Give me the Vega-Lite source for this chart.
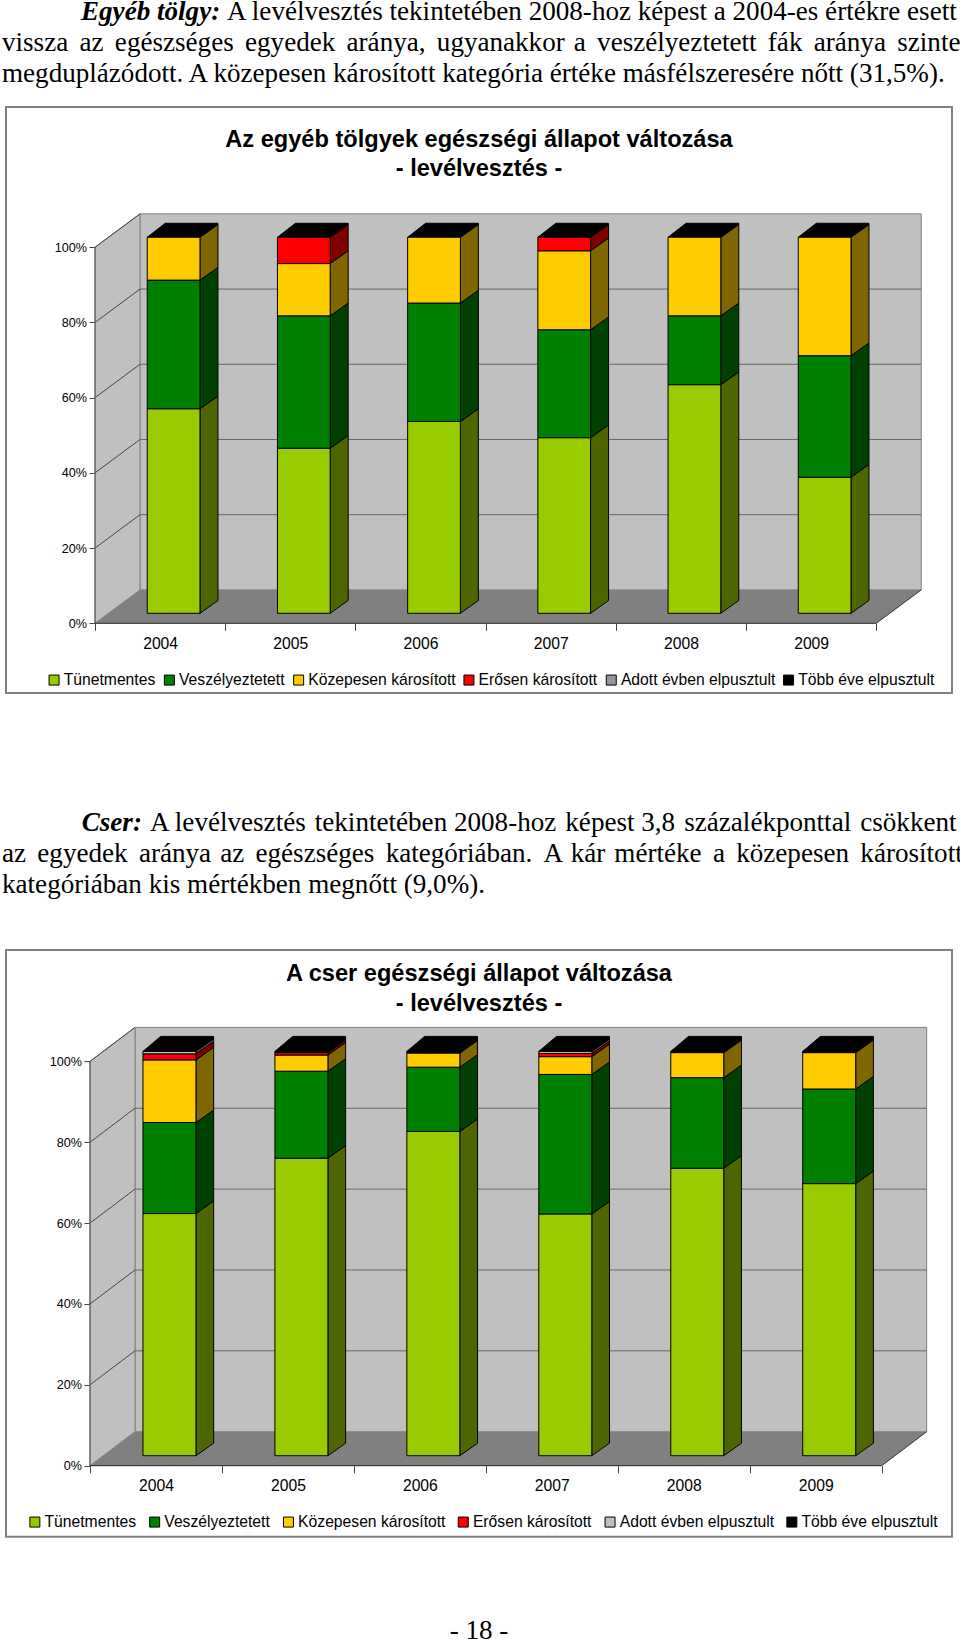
{"$schema":"https://vega.github.io/schema/vega-lite/v6.json","background":"white","padding":{"left":2,"top":-2,"right":0,"bottom":0},"spacing":0,"bounds":"flush","config":{"view":{"stroke":null},"concat":{"spacing":0}},"resolve":{"scale":{"color":"independent","fill":"independent"}},
"datasets":{
"frame":[{"slotFrom":0,"slotTo":6,"pctFrom":0,"pctTo":100}],
"ticks":[{"pct":20},{"pct":40},{"pct":60},{"pct":80},{"pct":100}],
"d1":[
{"year":2004,"series":"Tünetmentes","ord":1,"value":54.4},{"year":2004,"series":"Veszélyeztetett","ord":2,"value":34.2},{"year":2004,"series":"Közepesen károsított","ord":3,"value":11.4},{"year":2004,"series":"Erősen károsított","ord":4,"value":0},{"year":2004,"series":"Adott évben elpusztult","ord":5,"value":0},{"year":2004,"series":"Több éve elpusztult","ord":6,"value":0},
{"year":2005,"series":"Tünetmentes","ord":1,"value":43.9},{"year":2005,"series":"Veszélyeztetett","ord":2,"value":35.2},{"year":2005,"series":"Közepesen károsított","ord":3,"value":13.9},{"year":2005,"series":"Erősen károsított","ord":4,"value":7.0},{"year":2005,"series":"Adott évben elpusztult","ord":5,"value":0},{"year":2005,"series":"Több éve elpusztult","ord":6,"value":0},
{"year":2006,"series":"Tünetmentes","ord":1,"value":51.0},{"year":2006,"series":"Veszélyeztetett","ord":2,"value":31.5},{"year":2006,"series":"Közepesen károsított","ord":3,"value":17.5},{"year":2006,"series":"Erősen károsított","ord":4,"value":0},{"year":2006,"series":"Adott évben elpusztult","ord":5,"value":0},{"year":2006,"series":"Több éve elpusztult","ord":6,"value":0},
{"year":2007,"series":"Tünetmentes","ord":1,"value":46.7},{"year":2007,"series":"Veszélyeztetett","ord":2,"value":28.7},{"year":2007,"series":"Közepesen károsított","ord":3,"value":21.0},{"year":2007,"series":"Erősen károsított","ord":4,"value":3.6},{"year":2007,"series":"Adott évben elpusztult","ord":5,"value":0},{"year":2007,"series":"Több éve elpusztult","ord":6,"value":0},
{"year":2008,"series":"Tünetmentes","ord":1,"value":60.8},{"year":2008,"series":"Veszélyeztetett","ord":2,"value":18.3},{"year":2008,"series":"Közepesen károsított","ord":3,"value":20.9},{"year":2008,"series":"Erősen károsított","ord":4,"value":0},{"year":2008,"series":"Adott évben elpusztult","ord":5,"value":0},{"year":2008,"series":"Több éve elpusztult","ord":6,"value":0},
{"year":2009,"series":"Tünetmentes","ord":1,"value":36.2},{"year":2009,"series":"Veszélyeztetett","ord":2,"value":32.3},{"year":2009,"series":"Közepesen károsított","ord":3,"value":31.5},{"year":2009,"series":"Erősen károsított","ord":4,"value":0},{"year":2009,"series":"Adott évben elpusztult","ord":5,"value":0},{"year":2009,"series":"Több éve elpusztult","ord":6,"value":0}],
"d2":[
{"year":2004,"series":"Tünetmentes","ord":1,"value":59.9},{"year":2004,"series":"Veszélyeztetett","ord":2,"value":22.5},{"year":2004,"series":"Közepesen károsított","ord":3,"value":15.5},{"year":2004,"series":"Erősen károsított","ord":4,"value":1.5},{"year":2004,"series":"Adott évben elpusztult","ord":5,"value":0.6},{"year":2004,"series":"Több éve elpusztult","ord":6,"value":0},
{"year":2005,"series":"Tünetmentes","ord":1,"value":73.6},{"year":2005,"series":"Veszélyeztetett","ord":2,"value":21.5},{"year":2005,"series":"Közepesen károsított","ord":3,"value":4.0},{"year":2005,"series":"Erősen károsított","ord":4,"value":0.6},{"year":2005,"series":"Adott évben elpusztult","ord":5,"value":0},{"year":2005,"series":"Több éve elpusztult","ord":6,"value":0.3},
{"year":2006,"series":"Tünetmentes","ord":1,"value":80.2},{"year":2006,"series":"Veszélyeztetett","ord":2,"value":15.9},{"year":2006,"series":"Közepesen károsított","ord":3,"value":3.5},{"year":2006,"series":"Erősen károsított","ord":4,"value":0},{"year":2006,"series":"Adott évben elpusztult","ord":5,"value":0},{"year":2006,"series":"Több éve elpusztult","ord":6,"value":0.4},
{"year":2007,"series":"Tünetmentes","ord":1,"value":59.8},{"year":2007,"series":"Veszélyeztetett","ord":2,"value":34.5},{"year":2007,"series":"Közepesen károsított","ord":3,"value":4.4},{"year":2007,"series":"Erősen károsított","ord":4,"value":0.8},{"year":2007,"series":"Adott évben elpusztult","ord":5,"value":0.5},{"year":2007,"series":"Több éve elpusztult","ord":6,"value":0},
{"year":2008,"series":"Tünetmentes","ord":1,"value":71.1},{"year":2008,"series":"Veszélyeztetett","ord":2,"value":22.4},{"year":2008,"series":"Közepesen károsított","ord":3,"value":6.2},{"year":2008,"series":"Erősen károsított","ord":4,"value":0.3},{"year":2008,"series":"Adott évben elpusztult","ord":5,"value":0},{"year":2008,"series":"Több éve elpusztult","ord":6,"value":0},
{"year":2009,"series":"Tünetmentes","ord":1,"value":67.3},{"year":2009,"series":"Veszélyeztetett","ord":2,"value":23.4},{"year":2009,"series":"Közepesen károsított","ord":3,"value":9.0},{"year":2009,"series":"Erősen károsított","ord":4,"value":0.3},{"year":2009,"series":"Adott évben elpusztult","ord":5,"value":0},{"year":2009,"series":"Több éve elpusztult","ord":6,"value":0}]
},
"vconcat":[
{"width":946,"height":107,"encoding":{"x":{"field":"indent","type":"quantitative","scale":{"domain":[0,1],"range":[-4,75]},"axis":null},"y":{"field":"line","type":"quantitative","scale":{"domain":[1,3],"range":[20,82]},"axis":null},"text":{"field":"text"}},
"layer":[
{"data":{"values":[{"line":1,"indent":1,"text":"Egyéb tölgy:"}]},"mark":{"type":"text","font":"Liberation Serif","fontSize":27.1,"fontWeight":"bold","fontStyle":"italic","align":"left","baseline":"alphabetic","color":"#000"}},
{"data":{"values":[{"line":1,"indent":2.848,"text":"A levélvesztés tekintetében 2008-hoz képest a 2004-es értékre esett"},{"line":2,"indent":0,"text":"vissza \u200a\u200aaz \u200a\u200aegészséges \u200a\u200aegyedek \u200a\u200aaránya, \u200a\u200augyanakkor \u200aa \u200a\u200aveszélyeztetett \u200a\u200afák \u200a\u200aaránya \u200a\u200aszinte"},{"line":3,"indent":0,"text":"megduplázódott. A közepesen károsított kategória értéke másfélszeresére nőtt (31,5%)."}]},"mark":{"type":"text","font":"Liberation Serif","fontSize":27.1,"align":"left","baseline":"alphabetic","color":"#000"}}
]},
{"width":946,"height":586,"view":{"stroke":"#808080","strokeWidth":2},
"title":{"text":["Az egyéb tölgyek egészségi állapot változása","- levélvesztés -"],"font":"Liberation Sans","fontSize":23.6,"fontWeight":"bold","color":"#000","anchor":"middle","offset":-74,"lineHeight":29.5},
"encoding":{"x":{"field":"X","type":"quantitative","scale":{"domain":[-0.6836,6.582],"nice":false,"zero":false},"axis":{"values":[0,0.5,1,1.5,2,2.5,3,3.5,4,4.5,5,5.5,6],"orient":"bottom","offset":-69.7,"domain":false,"grid":false,"title":null,"tickSize":7,"tickColor":"#444","tickOpacity":{"condition":{"test":"datum.value%1==0","value":1},"value":0},"labelFont":"Liberation Sans","labelFontSize":15.7,"labelColor":"#000","labelPadding":6,"labelAngle":0,"labelOverlap":false,"labelFlush":false,"labelExpr":"datum.value%1==0.5 ? ''+(2004+floor(datum.value)) : ''"}},"y":{"field":"Y","type":"quantitative","scale":{"domain":[-18.54,137.3],"nice":false,"zero":false},"axis":{"values":[0,20,40,60,80,100],"orient":"left","offset":-89,"domain":false,"grid":false,"title":null,"tickSize":6,"tickColor":"#444","labelFont":"Liberation Sans","labelFontSize":12.6,"labelColor":"#000","labelPadding":2.5,"labelExpr":"datum.value+'%'"}}},
"layer":[
{"data":{"name":"frame"},"transform":[{"calculate":"datum.slotFrom+0.3456","as":"X"},{"calculate":"datum.slotTo+0.3456","as":"X2"},{"calculate":"datum.pctFrom+8.88","as":"Y"},{"calculate":"datum.pctTo+8.88","as":"Y2"}],"mark":{"type":"rect","fill":"#C0C0C0","stroke":"#808080","strokeWidth":1},"encoding":{"x2":{"field":"X2"},"y2":{"field":"Y2"}}},
{"data":{"name":"frame"},"transform":[{"calculate":"[0,1]","as":"f"},{"flatten":["f"]},{"calculate":"datum.f*0.3456","as":"X"},{"calculate":"datum.f*8.88","as":"Y"},{"calculate":"datum.pctTo+datum.f*8.88","as":"Y2"}],"mark":{"type":"area","fill":"#C0C0C0","stroke":"#808080","strokeWidth":1},"encoding":{"y":{"field":"Y","type":"quantitative","stack":null},"y2":{"field":"Y2"}}},
{"data":{"name":"frame"},"transform":[{"calculate":"[0,1,2,3]","as":"k"},{"flatten":["k"]},{"calculate":"[0,0.3456,6,6.3456][datum.k]","as":"X"},{"calculate":"[0,0,0,8.88][datum.k]","as":"Y"},{"calculate":"[0,8.88,8.88,8.88][datum.k]","as":"Y2"}],"mark":{"type":"area","fill":"#808080"},"encoding":{"y":{"field":"Y","type":"quantitative","stack":null},"y2":{"field":"Y2"}}},
{"data":{"name":"ticks"},"transform":[{"calculate":"0.3456","as":"X"},{"calculate":"6.3456","as":"X2"},{"calculate":"datum.pct+8.88","as":"Y"},{"filter":"datum.pct<100"}],"mark":{"type":"rule","color":"#666","strokeWidth":1},"encoding":{"x2":{"field":"X2"}}},
{"data":{"name":"ticks"},"transform":[{"calculate":"0","as":"X"},{"calculate":"0.3456","as":"X2"},{"calculate":"datum.pct","as":"Y"},{"calculate":"datum.pct+8.88","as":"Y2"}],"mark":{"type":"rule","color":"#444","strokeWidth":1},"encoding":{"x2":{"field":"X2"},"y2":{"field":"Y2"}}},
{"data":{"name":"frame"},"transform":[{"calculate":"0","as":"X"},{"calculate":"datum.pctFrom","as":"Y"},{"calculate":"datum.pctTo","as":"Y2"}],"mark":{"type":"rule","color":"#555","strokeWidth":1},"encoding":{"y2":{"field":"Y2"}}},
{"data":{"name":"frame"},"transform":[{"calculate":"datum.slotFrom","as":"X"},{"calculate":"datum.slotTo","as":"X2"},{"calculate":"datum.pctFrom","as":"Y"}],"mark":{"type":"rule","color":"#222","strokeWidth":1},"encoding":{"x2":{"field":"X2"}}},
{"data":{"name":"frame"},"transform":[{"calculate":"datum.slotTo","as":"X"},{"calculate":"datum.slotTo+0.3456","as":"X2"},{"calculate":"datum.pctFrom","as":"Y"},{"calculate":"datum.pctFrom+8.88","as":"Y2"}],"mark":{"type":"rule","color":"#333","strokeWidth":1},"encoding":{"x2":{"field":"X2"},"y2":{"field":"Y2"}}},
{"data":{"name":"d1"},"transform":[{"stack":"value","groupby":["year"],"sort":[{"field":"ord","order":"ascending"}],"as":["lo","hi"]},{"filter":"datum.value>0"},{"calculate":"[0,1]","as":"f"},{"flatten":["f"]},{"calculate":"datum.year-2004+0.8062+datum.f*0.1382","as":"X"},{"calculate":"datum.lo+2.66+datum.f*3.4","as":"Y"},{"calculate":"datum.hi+2.66+datum.f*3.4","as":"Y2"}],"mark":{"type":"area","stroke":"#000","strokeWidth":1},"encoding":{"y":{"field":"Y","type":"quantitative","stack":null},"y2":{"field":"Y2"},"detail":[{"field":"year"},{"field":"series"}],"fill":{"field":"series","type":"nominal","legend":null,"scale":{"domain":["Több éve elpusztult","Adott évben elpusztult","Erősen károsított","Közepesen károsított","Veszélyeztetett","Tünetmentes"],"range":["#000000","#4B4B4B","#800000","#806600","#004000","#4D6600"]}}}},
{"data":{"name":"d1"},"transform":[{"stack":"value","groupby":["year"],"sort":[{"field":"ord","order":"ascending"}],"as":["lo","hi"]},{"filter":"datum.ord==6"},{"calculate":"[0,1,2,3]","as":"k"},{"flatten":["k"]},{"calculate":"datum.year-2004+[0.4012,0.5394,0.8062,0.9444][datum.k]","as":"X"},{"calculate":"datum.hi+2.66+[0,0,0,3.4][datum.k]","as":"Y"},{"calculate":"datum.hi+2.66+[0,3.72,3.72,3.72][datum.k]","as":"Y2"}],"mark":{"type":"area","fill":"#000","stroke":"#000","strokeWidth":1},"encoding":{"y":{"field":"Y","type":"quantitative","stack":null},"y2":{"field":"Y2"},"detail":{"field":"year"}}},
{"data":{"name":"d1"},"transform":[{"stack":"value","groupby":["year"],"sort":[{"field":"ord","order":"ascending"}],"as":["lo","hi"]},{"filter":"datum.value>0"},{"calculate":"datum.year-2004+0.4012","as":"X"},{"calculate":"datum.year-2004+0.8062","as":"X2"},{"calculate":"datum.lo+2.66","as":"Y"},{"calculate":"datum.hi+2.66","as":"Y2"}],"mark":{"type":"rect","stroke":"#000","strokeWidth":1},"encoding":{"x2":{"field":"X2"},"y2":{"field":"Y2"},"color":{"field":"series","type":"nominal","scale":{"domain":["Tünetmentes","Veszélyeztetett","Közepesen károsított","Erősen károsított","Adott évben elpusztult","Több éve elpusztult"],"range":["#99CC00","#008000","#FFCC00","#FF0000","#969696","#000000"]},"legend":{"orient":"none","legendX":40.2,"legendY":565,"direction":"horizontal","columns":6,"columnPadding":5.3,"title":null,"symbolType":"square","symbolSize":100,"symbolStrokeColor":"#000","symbolStrokeWidth":1,"labelFont":"Liberation Sans","labelFontSize":15.7,"labelColor":"#000","labelOffset":1.8,"labelLimit":0}}}}
]},
{"width":946,"height":256.3,"encoding":{"x":{"field":"indent","type":"quantitative","scale":{"domain":[0,1],"range":[-4,75.7]},"axis":null},"y":{"field":"line","type":"quantitative","scale":{"domain":[1,3],"range":[137.7,199.7]},"axis":null},"text":{"field":"text"}},
"layer":[
{"data":{"values":[{"line":1,"indent":1,"text":"Cser:"}]},"mark":{"type":"text","font":"Liberation Serif","fontSize":27.1,"fontWeight":"bold","fontStyle":"italic","align":"left","baseline":"alphabetic","color":"#000"}},
{"data":{"values":[{"line":1,"indent":1.857,"text":"A levélvesztés \u200atekintetében 2008-hoz \u200aképest 3,8 \u200aszázalékponttal \u200acsökkent"},{"line":2,"indent":0,"text":"az \u200a\u200aegyedek \u200a\u200aaránya \u200aaz \u200a\u200aegészséges \u200a\u200akategóriában. \u200a\u200aA \u200akár \u200amértéke \u200a\u200aa \u200a\u200aközepesen \u200a\u200akárosított"},{"line":3,"indent":0,"text":"kategóriában kis mértékben megnőtt (9,0%)."}]},"mark":{"type":"text","font":"Liberation Serif","fontSize":27.1,"align":"left","baseline":"alphabetic","color":"#000"}}
]},
{"width":946,"height":586.7,"view":{"stroke":"#808080","strokeWidth":2},
"title":{"text":["A cser egészségi állapot változása","- levélvesztés -"],"font":"Liberation Sans","fontSize":23.6,"fontWeight":"bold","color":"#000","anchor":"middle","offset":-65.5,"lineHeight":29.5},
"encoding":{"x":{"field":"X","type":"quantitative","scale":{"domain":[-0.6366,6.533],"nice":false,"zero":false},"axis":{"values":[0,0.5,1,1.5,2,2.5,3,3.5,4,4.5,5,5.5,6],"orient":"bottom","offset":-71,"domain":false,"grid":false,"title":null,"tickSize":7,"tickColor":"#444","tickOpacity":{"condition":{"test":"datum.value%1==0","value":1},"value":0},"labelFont":"Liberation Sans","labelFontSize":15.7,"labelColor":"#000","labelPadding":6,"labelAngle":0,"labelOverlap":false,"labelFlush":false,"labelExpr":"datum.value%1==0.5 ? ''+(2004+floor(datum.value)) : ''"}},"y":{"field":"Y","type":"quantitative","scale":{"domain":[-17.56,127.55],"nice":false,"zero":false},"axis":{"values":[0,20,40,60,80,100],"orient":"left","offset":-84,"domain":false,"grid":false,"title":null,"tickSize":6,"tickColor":"#444","labelFont":"Liberation Sans","labelFontSize":12.6,"labelColor":"#000","labelPadding":2.5,"labelExpr":"datum.value+'%'"}}},
"layer":[
{"data":{"name":"frame"},"transform":[{"calculate":"datum.slotFrom+0.341","as":"X"},{"calculate":"datum.slotTo+0.341","as":"X2"},{"calculate":"datum.pctFrom+8.41","as":"Y"},{"calculate":"datum.pctTo+8.41","as":"Y2"}],"mark":{"type":"rect","fill":"#C0C0C0","stroke":"#808080","strokeWidth":1},"encoding":{"x2":{"field":"X2"},"y2":{"field":"Y2"}}},
{"data":{"name":"frame"},"transform":[{"calculate":"[0,1]","as":"f"},{"flatten":["f"]},{"calculate":"datum.f*0.341","as":"X"},{"calculate":"datum.f*8.41","as":"Y"},{"calculate":"datum.pctTo+datum.f*8.41","as":"Y2"}],"mark":{"type":"area","fill":"#C0C0C0","stroke":"#808080","strokeWidth":1},"encoding":{"y":{"field":"Y","type":"quantitative","stack":null},"y2":{"field":"Y2"}}},
{"data":{"name":"frame"},"transform":[{"calculate":"[0,1,2,3]","as":"k"},{"flatten":["k"]},{"calculate":"[0,0.341,6,6.341][datum.k]","as":"X"},{"calculate":"[0,0,0,8.41][datum.k]","as":"Y"},{"calculate":"[0,8.41,8.41,8.41][datum.k]","as":"Y2"}],"mark":{"type":"area","fill":"#808080"},"encoding":{"y":{"field":"Y","type":"quantitative","stack":null},"y2":{"field":"Y2"}}},
{"data":{"name":"ticks"},"transform":[{"calculate":"0.341","as":"X"},{"calculate":"6.341","as":"X2"},{"calculate":"datum.pct+8.41","as":"Y"},{"filter":"datum.pct<100"}],"mark":{"type":"rule","color":"#666","strokeWidth":1},"encoding":{"x2":{"field":"X2"}}},
{"data":{"name":"ticks"},"transform":[{"calculate":"0","as":"X"},{"calculate":"0.341","as":"X2"},{"calculate":"datum.pct","as":"Y"},{"calculate":"datum.pct+8.41","as":"Y2"}],"mark":{"type":"rule","color":"#444","strokeWidth":1},"encoding":{"x2":{"field":"X2"},"y2":{"field":"Y2"}}},
{"data":{"name":"frame"},"transform":[{"calculate":"0","as":"X"},{"calculate":"datum.pctFrom","as":"Y"},{"calculate":"datum.pctTo","as":"Y2"}],"mark":{"type":"rule","color":"#555","strokeWidth":1},"encoding":{"y2":{"field":"Y2"}}},
{"data":{"name":"frame"},"transform":[{"calculate":"datum.slotFrom","as":"X"},{"calculate":"datum.slotTo","as":"X2"},{"calculate":"datum.pctFrom","as":"Y"}],"mark":{"type":"rule","color":"#222","strokeWidth":1},"encoding":{"x2":{"field":"X2"}}},
{"data":{"name":"frame"},"transform":[{"calculate":"datum.slotTo","as":"X"},{"calculate":"datum.slotTo+0.341","as":"X2"},{"calculate":"datum.pctFrom","as":"Y"},{"calculate":"datum.pctFrom+8.41","as":"Y2"}],"mark":{"type":"rule","color":"#333","strokeWidth":1},"encoding":{"x2":{"field":"X2"},"y2":{"field":"Y2"}}},
{"data":{"name":"d2"},"transform":[{"stack":"value","groupby":["year"],"sort":[{"field":"ord","order":"ascending"}],"as":["lo","hi"]},{"filter":"datum.value>0"},{"calculate":"[0,1]","as":"f"},{"flatten":["f"]},{"calculate":"datum.year-2004+0.8031+datum.f*0.1342","as":"X"},{"calculate":"datum.lo+2.47+datum.f*3.1","as":"Y"},{"calculate":"datum.hi+2.47+datum.f*3.1","as":"Y2"}],"mark":{"type":"area","stroke":"#000","strokeWidth":1},"encoding":{"y":{"field":"Y","type":"quantitative","stack":null},"y2":{"field":"Y2"},"detail":[{"field":"year"},{"field":"series"}],"fill":{"field":"series","type":"nominal","legend":null,"scale":{"domain":["Több éve elpusztult","Adott évben elpusztult","Erősen károsított","Közepesen károsított","Veszélyeztetett","Tünetmentes"],"range":["#000000","#606060","#800000","#806600","#004000","#4D6600"]}}}},
{"data":{"name":"d2"},"transform":[{"stack":"value","groupby":["year"],"sort":[{"field":"ord","order":"ascending"}],"as":["lo","hi"]},{"filter":"datum.ord==6"},{"calculate":"[0,1,2,3]","as":"k"},{"flatten":["k"]},{"calculate":"datum.year-2004+[0.4015,0.5357,0.8031,0.9373][datum.k]","as":"X"},{"calculate":"datum.hi+2.47+[0,0,0,3.1][datum.k]","as":"Y"},{"calculate":"datum.hi+2.47+[0,3.71,3.71,3.71][datum.k]","as":"Y2"}],"mark":{"type":"area","fill":"#000","stroke":"#000","strokeWidth":1},"encoding":{"y":{"field":"Y","type":"quantitative","stack":null},"y2":{"field":"Y2"},"detail":{"field":"year"}}},
{"data":{"name":"d2"},"transform":[{"stack":"value","groupby":["year"],"sort":[{"field":"ord","order":"ascending"}],"as":["lo","hi"]},{"filter":"datum.value>0"},{"calculate":"datum.year-2004+0.4015","as":"X"},{"calculate":"datum.year-2004+0.8031","as":"X2"},{"calculate":"datum.lo+2.47","as":"Y"},{"calculate":"datum.hi+2.47","as":"Y2"}],"mark":{"type":"rect","stroke":"#000","strokeWidth":1},"encoding":{"x2":{"field":"X2"},"y2":{"field":"Y2"},"color":{"field":"series","type":"nominal","scale":{"domain":["Tünetmentes","Veszélyeztetett","Közepesen károsított","Erősen károsított","Adott évben elpusztult","Több éve elpusztult"],"range":["#99CC00","#008000","#FFCC00","#FF0000","#C0C0C0","#000000"]},"legend":{"orient":"none","legendX":21,"legendY":564,"direction":"horizontal","columns":6,"columnPadding":9.8,"title":null,"symbolType":"square","symbolSize":100,"symbolStrokeColor":"#000","symbolStrokeWidth":1,"labelFont":"Liberation Sans","labelFontSize":15.7,"labelColor":"#000","labelOffset":1.8,"labelLimit":0}}}}
]},
{"width":946,"height":103,"data":{"values":[{"line":1,"page":0.5,"text":"- 18 -"}]},"mark":{"type":"text","font":"Liberation Serif","fontSize":27.1,"align":"center","baseline":"alphabetic","color":"#000"},"encoding":{"x":{"field":"page","type":"quantitative","scale":{"domain":[0,1],"range":[0,946]},"axis":null},"y":{"field":"line","type":"quantitative","scale":{"domain":[1,2],"range":[102,130]},"axis":null},"text":{"field":"text"}}}
]}
